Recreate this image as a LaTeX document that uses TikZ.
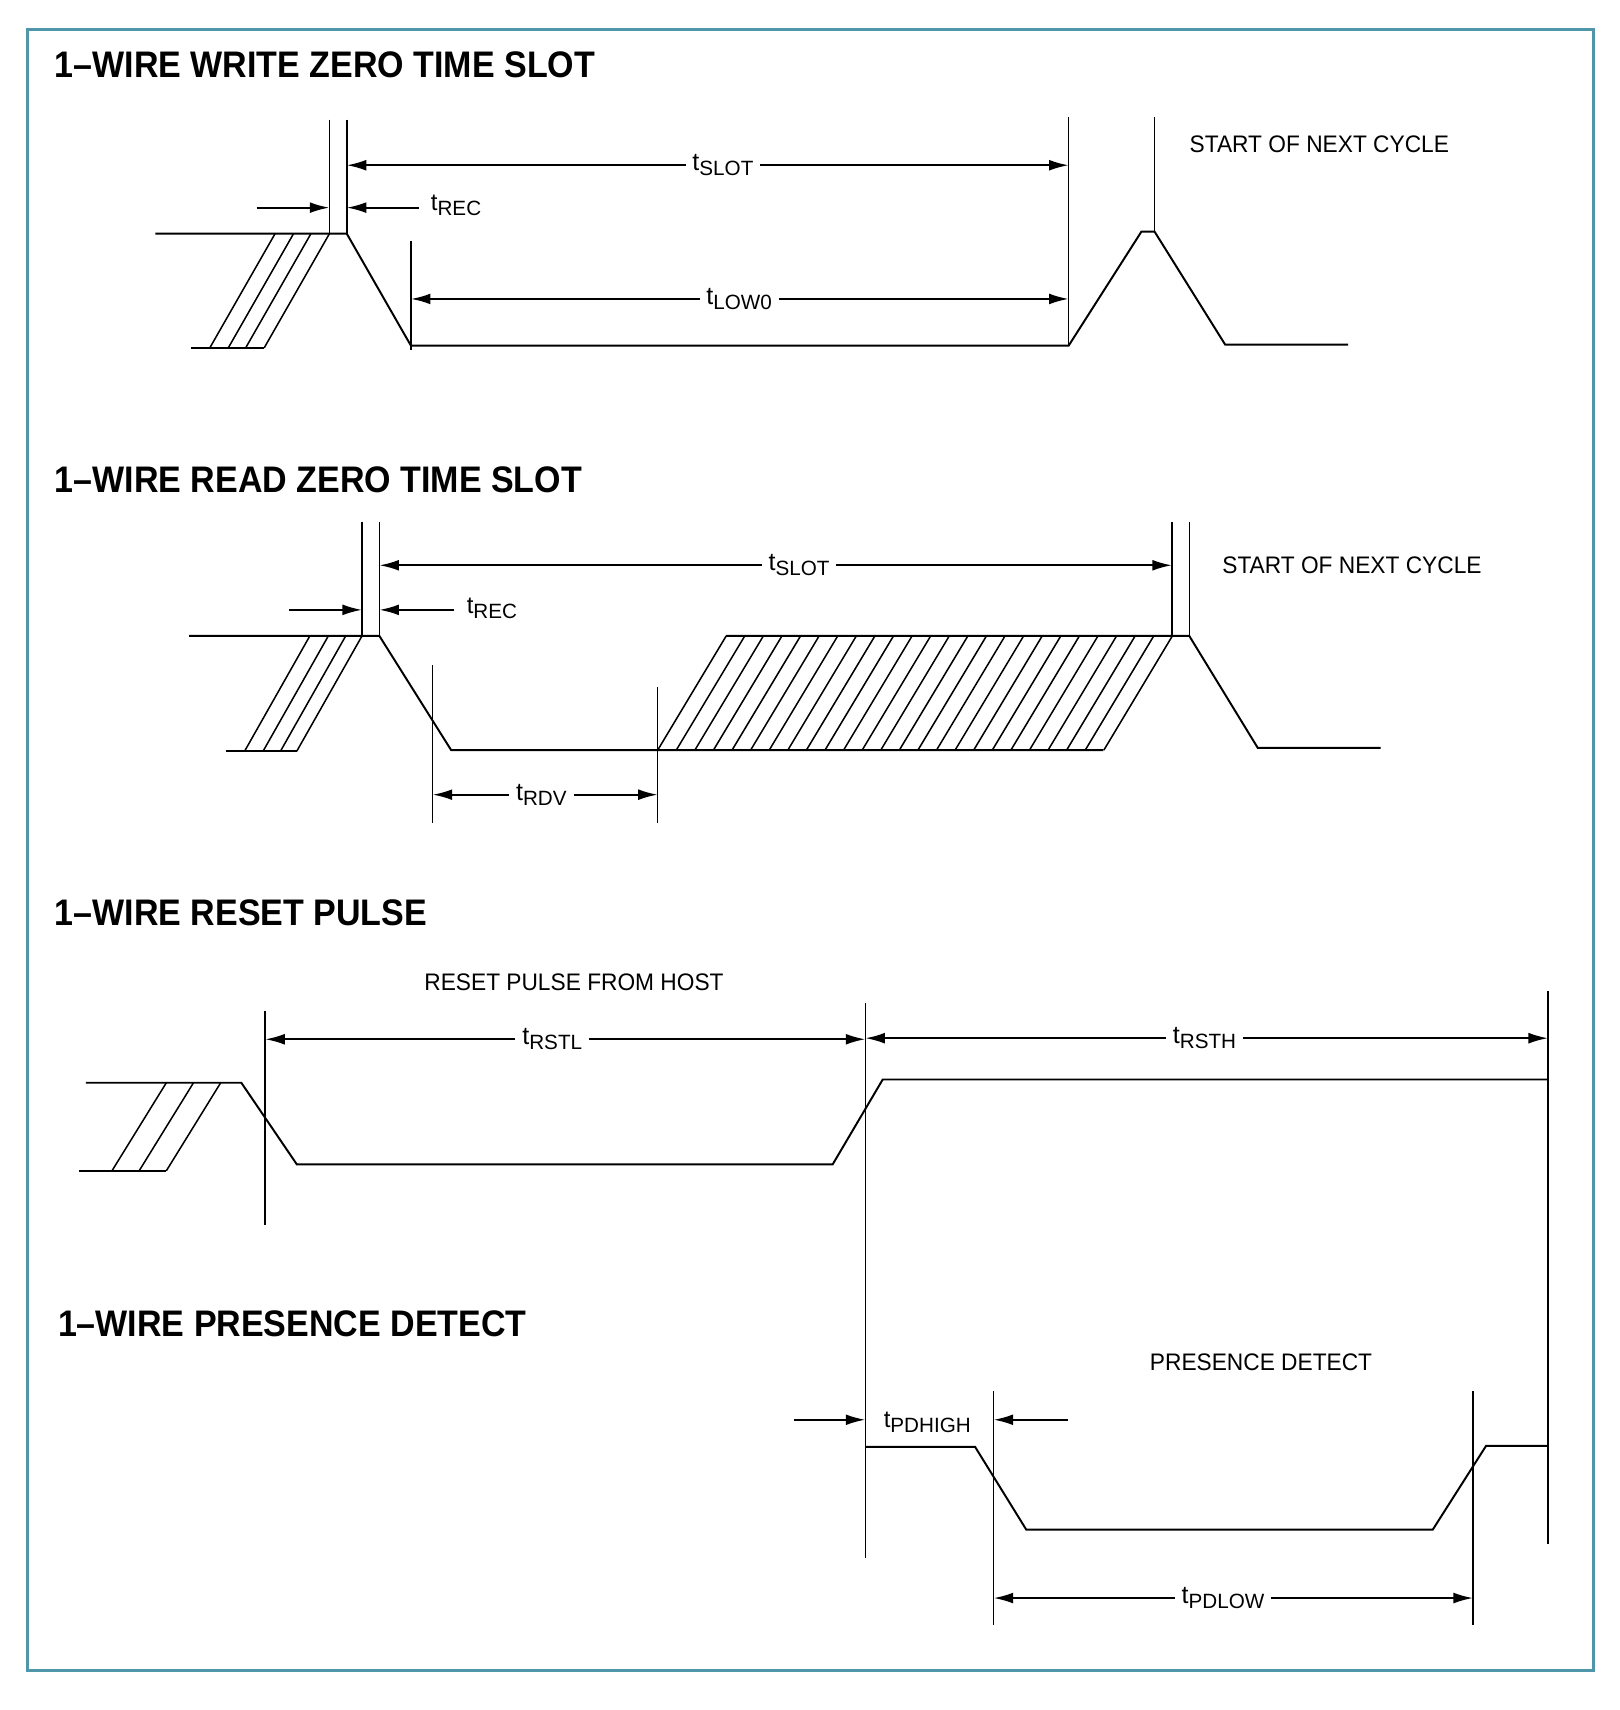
\documentclass[tikz,border=0pt]{standalone}
\usepackage{fontspec}
\setmainfont{Liberation Sans}
\usetikzlibrary{arrows.meta}
\definecolor{frame}{RGB}{80,150,170}
\newcommand{\tsub}[1]{t\raisebox{-0.4ex}{\fontsize{9.5}{10}\selectfont #1}}
\newcommand{\ttl}[1]{\scalebox{0.92}[1]{#1}}
\newcommand{\nrw}[1]{\scalebox{0.95}[1]{#1}}
\begin{document}
\begin{tikzpicture}[x=0.5pt,y=-0.5pt,
  sig/.style={line width=0.9pt,line join=miter},
  thin/.style={line width=0.7pt},
  dim/.style={line width=0.9pt,-{Latex[length=9pt,width=5pt]}},
  title/.style={font=\bfseries\fontsize{17}{18}\selectfont,anchor=west,inner sep=0},
  lab/.style={font=\fontsize{11}{12}\selectfont,inner sep=2pt},
  tl/.style={font=\fontsize{11.5}{12}\selectfont,fill=white,inner sep=3pt}]
\useasboundingbox (0,0) rectangle (1490,1573);
\fill[white] (0,0) rectangle (1490,1573);
\draw[frame,line width=1.3pt] (25,27) rectangle (1466,1537);
% ---------- section 1
\node[title] (t1) at (50,60) {\ttl{1–WIRE WRITE ZERO TIME SLOT}};
\draw[sig] (143,215) -- (319,215) -- (378,318) -- (983,318) -- (1050,213) -- (1062,213) -- (1127,317) -- (1240,317);
\draw[sig] (176,320) -- (243,320);
\foreach \b in {193,210,226,243} \draw[thin] (\b,320) -- (\b+60,215);
\draw[thin] (303,110) -- (303,215);
\draw[thin] (319,110) -- (319,215);
\draw[thin] (378,222) -- (378,322);
\draw[thin] (983,108) -- (983,318);
\draw[thin] (1062,108) -- (1062,213);
\node[tl] (s1) at (665,152) {\tsub{SLOT}};
\coordinate (s1a) at (319,152); \coordinate (s1b) at (983,152);
\draw[dim] (s1) -- (s1a); \draw[dim] (s1) -- (s1b);
\node[tl] (l1) at (680,275) {\tsub{LOW0}};
\coordinate (l1a) at (378,275); \coordinate (l1b) at (983,275);
\draw[dim] (l1) -- (l1a); \draw[dim] (l1) -- (l1b);
\coordinate (r1a) at (236,191); \coordinate (r1p) at (303,191);
\coordinate (r1b) at (385,191); \coordinate (r1q) at (319,191);
\draw[dim] (r1a) -- (r1p); \draw[dim] (r1b) -- (r1q);
\node[lab,anchor=west] (r1) at (392,189) {\tsub{REC}};
\node[lab,anchor=west] (n1) at (1090,133) {\nrw{START OF NEXT CYCLE}};
% ---------- section 2
\node[title] (t2) at (50,441) {\ttl{1–WIRE READ ZERO TIME SLOT}};
\draw[sig] (174,585) -- (349,585) -- (415,690) -- (1015,690);
\draw[sig] (668,585) -- (1094,585) -- (1157,688) -- (1270,688);
\draw[sig] (208,691) -- (273,691);
\foreach \b in {225,242,258,273} \draw[thin] (\b,691) -- (\b+60,585);
\foreach \i in {0,...,24} \draw[thin] (605+\i*17.1,690) -- (668+\i*17.1,585);
\draw[thin] (333,480) -- (333,585);
\draw[thin] (349,480) -- (349,585);
\draw[thin] (1078,480) -- (1078,585);
\draw[thin] (1094,480) -- (1094,585);
\draw[thin] (398,612) -- (398,757);
\draw[thin] (605,632) -- (605,757);
\node[tl] (s2) at (735,520) {\tsub{SLOT}};
\coordinate (s2a) at (349,520); \coordinate (s2b) at (1078,520);
\draw[dim] (s2) -- (s2a); \draw[dim] (s2) -- (s2b);
\coordinate (r2a) at (266,561); \coordinate (r2p) at (333,561);
\coordinate (r2b) at (418,561); \coordinate (r2q) at (349,561);
\draw[dim] (r2a) -- (r2p); \draw[dim] (r2b) -- (r2q);
\node[lab,anchor=west] (r2) at (425,560) {\tsub{REC}};
\node[tl] (d2) at (498,731) {\tsub{RDV}};
\coordinate (d2a) at (398,731); \coordinate (d2b) at (605,731);
\draw[dim] (d2) -- (d2a); \draw[dim] (d2) -- (d2b);
\node[lab,anchor=west] (n2) at (1120,520) {\nrw{START OF NEXT CYCLE}};
% ---------- section 3
\node[title] (t3) at (50,840) {\ttl{1–WIRE RESET PULSE}};
\node[lab] (h3) at (528,904) {\nrw{RESET PULSE FROM HOST}};
\draw[sig] (79,996) -- (222,996) -- (273,1071) -- (766,1071) -- (812,993) -- (1424,993);
\draw[sig] (73,1077) -- (153,1077);
\foreach \b in {103,128,153} \draw[thin] (\b,1077) -- (\b+50,996);
\draw[thin] (244,930) -- (244,1127);
\draw[thin] (796,923) -- (796,1433);
\draw[thin] (1424,912) -- (1424,1420);
\node[tl] (rl) at (508,956) {\tsub{RSTL}};
\coordinate (rla) at (244,956); \coordinate (rlb) at (796,956);
\draw[dim] (rl) -- (rla); \draw[dim] (rl) -- (rlb);
\node[tl] (rh) at (1108,955) {\tsub{RSTH}};
\coordinate (rha) at (796,955); \coordinate (rhb) at (1424,955);
\draw[dim] (rh) -- (rha); \draw[dim] (rh) -- (rhb);
% ---------- section 4
\node[title] (t4) at (53,1218) {\ttl{1–WIRE PRESENCE DETECT}};
\node[lab] (p4) at (1160,1253) {\nrw{PRESENCE DETECT}};
\draw[sig] (796,1331) -- (897,1331) -- (944,1407) -- (1318,1407) -- (1367,1330) -- (1424,1330);
\draw[thin] (914,1280) -- (914,1495);
\draw[thin] (1355,1280) -- (1355,1495);
\coordinate (ph1) at (730,1306); \coordinate (ph1e) at (796,1306);
\coordinate (ph2) at (982,1306); \coordinate (ph2e) at (914,1306);
\draw[dim] (ph1) -- (ph1e); \draw[dim] (ph2) -- (ph2e);
\node[lab] (ph) at (853,1308) {\tsub{PDHIGH}};
\node[tl] (pl) at (1125,1470) {\tsub{PDLOW}};
\coordinate (pla) at (914,1470); \coordinate (plb) at (1355,1470);
\draw[dim] (pl) -- (pla); \draw[dim] (pl) -- (plb);
\end{tikzpicture}
\end{document}
